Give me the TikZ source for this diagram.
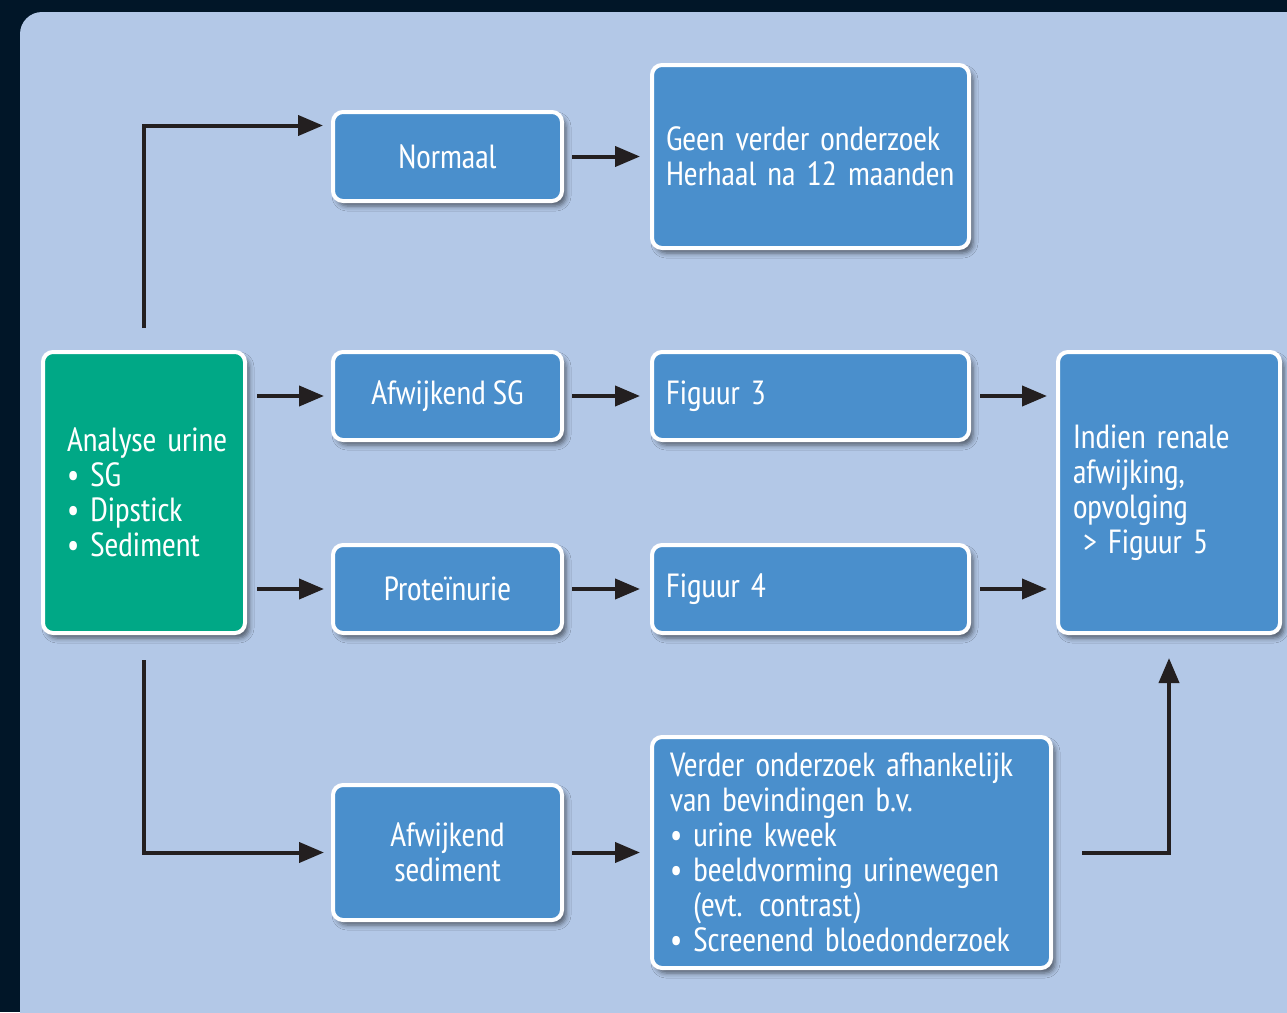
\documentclass[tikz,border=0pt]{standalone}
\usepackage{fontspec}
\setmainfont{PT Sans Narrow}
\usetikzlibrary{arrows.meta,shadows.blur}
\definecolor{darkbg}{HTML}{011628}
\definecolor{panel}{HTML}{B3C8E7}
\definecolor{boxblue}{HTML}{4A8FCC}
\definecolor{boxgreen}{HTML}{00A886}
\definecolor{linecol}{HTML}{231F20}
\begin{document}
\begin{tikzpicture}[x=1pt,y=-1pt,
  box/.style={draw=white, line width=4pt, rounded corners=10pt, fill=boxblue,
    text=white, font=\fontsize{33.5}{35}\selectfont, inner ysep=0pt,
    blur shadow={shadow xshift=4pt, shadow yshift=-5pt, shadow blur radius=5pt, shadow opacity=55}},
  arr/.style={draw=linecol, line width=4pt, -{Triangle[length=25pt,width=20pt]},
    shorten <=9pt, shorten >=9pt}]
\useasboundingbox (0,0) rectangle (1287,1012);
\fill[darkbg] (0,0) rectangle (1287,1012);
\fill[panel, rounded corners=22pt] (20,12) rectangle (1330,1050);

% left column
\node[box, fill=boxgreen, minimum width=202pt, minimum height=281pt,
      inner xsep=24pt, text width=154pt, align=left] (ana) at (144,492.5)
  {Analyse~urine\\• SG\\• Dipstick\\• Sediment};

% middle column
\node[box, minimum width=229pt, minimum height=89pt] (norm) at (447.5,156.5) {Normaal};
\node[box, minimum width=229pt, minimum height=88pt] (afsg) at (447.5,396) {Afwijkend SG};
\node[box, minimum width=229pt, minimum height=88pt] (prot) at (447.5,589) {Proteïnurie};
\node[box, minimum width=229pt, minimum height=135pt, align=center] (afsed) at (447.5,852.5)
  {Afwijkend\\sediment};

% right columns
\node[box, minimum width=317pt, minimum height=183pt,
      inner xsep=14pt, text width=289pt, align=left] (geen) at (810.5,156.5)
  {Geen verder onderzoek\\Herhaal na 12 maanden};
\node[box, minimum width=317pt, minimum height=88pt,
      inner xsep=14pt, text width=289pt, align=left] (fig3) at (810.5,396) {Figuur 3};
\node[box, minimum width=317pt, minimum height=88pt,
      inner xsep=14pt, text width=289pt, align=left] (fig4) at (810.5,589) {Figuur 4};
\node[box, minimum width=399pt, minimum height=231pt,
      inner xsep=18pt, text width=363pt, align=left] (verder) at (851.5,852.5)
  {Verder onderzoek afhankelijk\\van bevindingen b.v.\\• urine kweek\\
   • beeldvorming urinewegen\\\phantom{• }(evt. contrast)\\• Screenend bloedonderzoek};
\node[box, minimum width=222pt, minimum height=281pt,
      inner xsep=15pt, text width=192pt, align=left] (indien) at (1169,492.5)
  {Indien renale\\afwijking,\\opvolging\\\hspace{10pt}> Figuur 5};

% connectors
\draw[arr, shorten <=22pt, shorten >=8pt] (ana.north) |- ([yshift=31pt]norm.west);
\draw[arr, shorten <=10pt, shorten >=7pt] (ana.east |- afsg.west) -- (afsg.west);
\draw[arr, shorten <=10pt, shorten >=7pt] (ana.east |- prot.west) -- (prot.west);
\draw[arr, shorten <=25pt, shorten >=7pt] (ana.south) |- (afsed.west);
\draw[arr, shorten <=8pt, shorten >=10pt] (norm.east) -- (geen.west);
\draw[arr, shorten <=8pt, shorten >=10pt] (afsg.east) -- (fig3.west);
\draw[arr, shorten <=8pt, shorten >=10pt] (prot.east) -- (fig4.west);
\draw[arr, shorten <=8pt, shorten >=10pt] (afsed.east) -- (verder.west);
\draw[arr] (fig3.east) -- (indien.west |- fig3.east);
\draw[arr] (fig4.east) -- (indien.west |- fig4.east);
\draw[arr, shorten <=29pt, shorten >=23pt] (verder.east) -| (indien.south);
\end{tikzpicture}
\end{document}
